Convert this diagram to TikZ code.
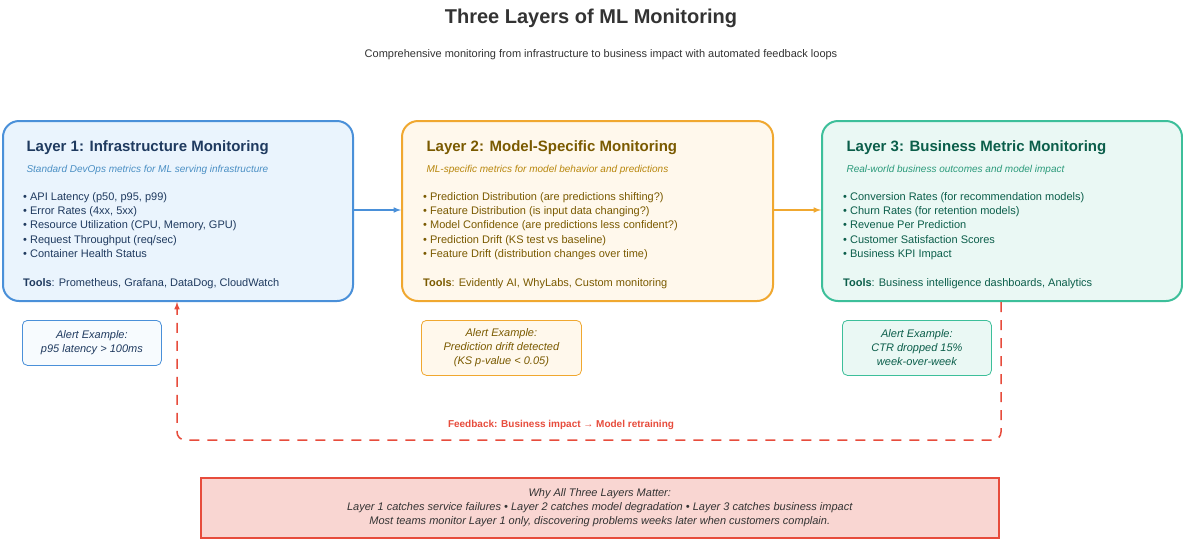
\documentclass[tikz,border=0pt]{standalone}
\usepackage{fontspec}
\setmainfont{Liberation Sans}
\usetikzlibrary{positioning}
\definecolor{blueB}{HTML}{4A90D9}\definecolor{blueF}{HTML}{EAF4FD}\definecolor{blueT}{HTML}{1F3A5F}\definecolor{blueS}{HTML}{4A8FC4}
\definecolor{orB}{HTML}{F0A830}\definecolor{orF}{HTML}{FFF8EC}\definecolor{orT}{HTML}{7A5A00}\definecolor{orS}{HTML}{B8860B}
\definecolor{grB}{HTML}{3DBF9A}\definecolor{grF}{HTML}{EAF8F4}\definecolor{grT}{HTML}{0B5E4A}\definecolor{grS}{HTML}{2A9A7A}
\definecolor{redL}{HTML}{E74C3C}\definecolor{redF}{HTML}{F9D6D2}\definecolor{txt}{HTML}{333333}
\tikzset{
  layer/.style={draw=#1, line width=2pt, rounded corners=16pt, anchor=north west, inner sep=0pt},
  alert/.style={draw=#1, line width=.8pt, rounded corners=5pt, anchor=north west, inner sep=0pt},
  ltitle/.style={anchor=base west, font=\fontsize{15}{18}\selectfont\bfseries, text=#1},
  lsub/.style={anchor=base west, font=\fontsize{10}{12}\selectfont\itshape, text=#1},
  lbody/.style={anchor=north west, font=\fontsize{11}{14.3}\selectfont, text=#1, align=left, inner sep=0pt},
  atext/.style={font=\fontsize{11}{14}\selectfont\itshape, text=#1, align=center},
}
\begin{document}
\begin{tikzpicture}[x=1pt,y=-1pt]
    \useasboundingbox[fill=white] (0,0) rectangle (1183,539);
    \node[font=\fontsize{20}{24}\selectfont\bfseries, text=txt] (title) at (591,18) {Three Layers of ML Monitoring};
    \node[font=\fontsize{11}{13}\selectfont, text=txt] (subtitle) at (601,55) {Comprehensive monitoring from infrastructure to business impact with automated feedback loops};

    % layer boxes
    \node[layer=blueB, fill=blueF, minimum width=350pt, minimum height=180pt] (L1) at (2,120) {};
    \node[layer=orB, fill=orF, minimum width=371pt, minimum height=180pt] (L2) at (401,120) {};
    \node[layer=grB, fill=grF, minimum width=360pt, minimum height=180pt] (L3) at (821,120) {};

    \node[ltitle=blueT] at (23,151) {Layer 1: Infrastructure Monitoring};
    \node[lsub=blueS] at (23,172) {Standard DevOps metrics for ML serving infrastructure};
    \node[lbody=blueT] at (23,192) {• API Latency (p50, p95, p99)\\• Error Rates (4xx, 5xx)\\• Resource Utilization (CPU, Memory, GPU)\\• Request Throughput (req/sec)\\• Container Health Status};
    \node[lbody=blueT] at (23,278) {\textbf{Tools}: Prometheus, Grafana, DataDog, CloudWatch};

    \node[ltitle=orT] at (423,151) {Layer 2: Model-Specific Monitoring};
    \node[lsub=orS] at (423,172) {ML-specific metrics for model behavior and predictions};
    \node[lbody=orT] at (423,192) {• Prediction Distribution (are predictions shifting?)\\• Feature Distribution (is input data changing?)\\• Model Confidence (are predictions less confident?)\\• Prediction Drift (KS test vs baseline)\\• Feature Drift (distribution changes over time)};
    \node[lbody=orT] at (423,278) {\textbf{Tools}: Evidently AI, WhyLabs, Custom monitoring};

    \node[ltitle=grT] at (843,151) {Layer 3: Business Metric Monitoring};
    \node[lsub=grS] at (843,172) {Real-world business outcomes and model impact};
    \node[lbody=grT] at (843,192) {• Conversion Rates (for recommendation models)\\• Churn Rates (for retention models)\\• Revenue Per Prediction\\• Customer Satisfaction Scores\\• Business KPI Impact};
    \node[lbody=grT] at (843,278) {\textbf{Tools}: Business intelligence dashboards, Analytics};

    \draw[-latex, blueB, line width=1.5pt] (L1.east |- 0,210) -- (L2.west |- 0,210);
    \draw[-latex, orB, line width=1.5pt] (L2.east |- 0,210) -- (L3.west |- 0,210);

    % alert examples
    \node[alert=blueB, fill=blueF!40, minimum width=139pt, minimum height=45pt] (A1) at (22,320) {};
    \node[atext=blueT] at (A1.center) {Alert Example:\\p95 latency > 100ms};
    \node[alert=orB, fill=orF, minimum width=160pt, minimum height=55pt] (A2) at (421,320) {};
    \node[atext=orT] at (A2.center) {Alert Example:\\Prediction drift detected\\(KS p-value < 0.05)};
    \node[alert=grB, fill=grF, minimum width=149pt, minimum height=55pt] (A3) at (842,320) {};
    \node[atext=grT] at (A3.center) {Alert Example:\\CTR dropped 15\%\\week-over-week};

    % feedback loop
    \coordinate (fb) at (177,440);
    \draw[-latex, redL, line width=1.5pt, dash pattern=on 10pt off 8pt, rounded corners=8pt]
        (L3.south -| 1001,0) -- (1001,440) -- (fb) -- (L1.south -| fb);
    \node[font=\fontsize{10}{12}\selectfont\bfseries, text=redL] (fbl) at (561,425) {Feedback: Business impact → Model retraining};

    % bottom note
    \node[draw=redL, line width=1.5pt, fill=redF, anchor=north west, minimum width=798pt, minimum height=60pt, inner sep=0pt] (why) at (200,477) {};
    \node[atext=txt] at (why.center) {Why All Three Layers Matter:\\Layer 1 catches service failures • Layer 2 catches model degradation • Layer 3 catches business impact\\Most teams monitor Layer 1 only, discovering problems weeks later when customers complain.};
\end{tikzpicture}
\end{document}
